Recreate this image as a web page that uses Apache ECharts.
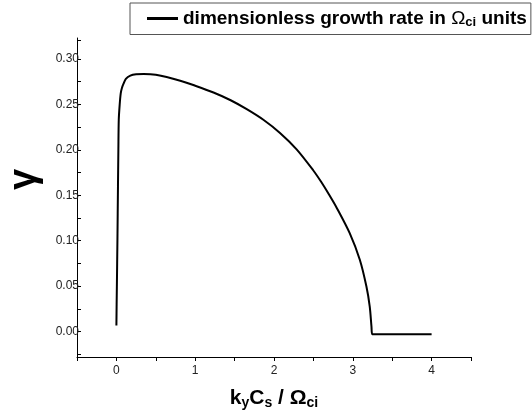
<!DOCTYPE html>
<html>
<head>
<meta charset="utf-8">
<script src="https://cdn.jsdelivr.net/npm/echarts@6/dist/echarts.min.js"></script>
<style>
  html, body { margin: 0; padding: 0; background: #fff; }
  #chart { width: 532px; height: 417px; }
</style>
</head>
<body>
<div id="chart"></div>
<script>
// values
const kValues = [0, 0.003, 0.006, 0.013, 0.02, 0.025, 0.03, 0.042, 0.055, 0.07, 0.092, 0.12, 0.177, 0.25, 0.346, 0.5, 0.81, 1.0, 1.232, 1.45, 1.654, 1.865, 2.076, 2.287, 2.497, 2.6, 2.7, 2.8, 2.962, 3.089, 3.173, 3.215, 3.237, 3.248, 3.5, 4.0];
const gammaValues = [0.0066, 0.03, 0.05, 0.10, 0.16, 0.20, 0.233, 0.25, 0.262, 0.268, 0.273, 0.278, 0.2817, 0.2832, 0.2835, 0.2825, 0.276, 0.2705, 0.263, 0.2545, 0.2447, 0.233, 0.2185, 0.2005, 0.1775, 0.1645, 0.1505, 0.1355, 0.108, 0.079, 0.0495, 0.0275, 0.0055, -0.003, -0.003, -0.003];
const xLabels = [0, 1, 2, 3, 4];
const xTicks = [-0.5, 0, 0.5, 1, 1.5, 2, 2.5, 3, 3.5, 4, 4.5];
const yLabels = [0, 0.05, 0.10, 0.15, 0.20, 0.25, 0.30];
const yTicks = [-0.025, 0, 0.025, 0.05, 0.075, 0.10, 0.125, 0.15, 0.175, 0.20, 0.225, 0.25, 0.275, 0.30, 0.32];
const seriesName = 'growth';

const chart = echarts.init(document.getElementById('chart'), null, { renderer: 'canvas' });

const font = '"Liberation Sans", Arial, sans-serif';

chart.setOption({
  animation: false,
  backgroundColor: '#fff',
  grid: { left: 77, right: 61, top: 38, bottom: 60, outerBoundsMode: 'none', containLabel: false },
  legend: {
    data: [seriesName],
    left: 130,
    top: 3,
    padding: [6, 4, 6, 17],
    borderColor: '#555',
    borderWidth: 1,
    icon: 'rect',
    itemWidth: 31,
    itemHeight: 3,
    formatter: function () {
      return 'dimensionless growth rate in {o|Ω}{s|ci} units';
    },
    textStyle: {
      fontFamily: font,
      fontWeight: 'bold',
      fontSize: 19,
      color: '#000',
      rich: {
        o: { fontFamily: font, fontSize: 19, fontWeight: 'normal', color: '#000' },
        s: { fontFamily: font, fontSize: 13, fontWeight: 'bold', color: '#000', verticalAlign: 'bottom', padding: [7, 0, 0, 0] }
      }
    }
  },
  xAxis: {
    type: 'value',
    min: -0.5,
    max: 4.5,
    splitLine: { show: false },
    axisLine: { onZero: false, lineStyle: { color: '#000', width: 1 } },
    axisTick: { customValues: xTicks, length: 4, lineStyle: { color: '#000' } },
    axisLabel: {
      customValues: xLabels,
      margin: 8,
      fontFamily: font,
      fontSize: 12,
      color: '#222'
    },
    name: 'k{s|y}C{s|s} / Ω{s|ci}',
    nameLocation: 'middle',
    nameGap: 29,
    nameTextStyle: {
      fontFamily: font,
      fontWeight: 'bold',
      fontSize: 21,
      color: '#000',
      rich: {
        s: { fontFamily: font, fontWeight: 'bold', fontSize: 14, color: '#000', verticalAlign: 'bottom', padding: [10, 0, 0, 0] }
      }
    }
  },
  yAxis: {
    type: 'value',
    min: -0.028,
    max: 0.323,
    splitLine: { show: false },
    axisLine: { show: true, onZero: false, lineStyle: { color: '#000', width: 1 } },
    axisTick: { show: true, inside: true, customValues: yTicks, length: 4, lineStyle: { color: '#000' } },
    axisLabel: {
      customValues: yLabels,
      margin: -2,
      fontFamily: font,
      fontSize: 12,
      color: '#222',
      formatter: function (v) { return v.toFixed(2); }
    },
    name: 'γ',
    nameLocation: 'middle',
    nameGap: 33,
    nameTextStyle: {
      fontFamily: font,
      fontWeight: 'bold',
      fontSize: 38,
      color: '#000',
      padding: [0, 0, 0, 36]
    }
  },
  series: [
    {
      name: seriesName,
      type: 'line',
      data: kValues.map((k, i) => [k, gammaValues[i]]),
      showSymbol: false,
      symbol: 'none',
      smooth: 0.3,
      lineStyle: { color: '#000', width: 2 },
      itemStyle: { color: '#000' }
    }
  ]
});
</script>
</body>
</html>
